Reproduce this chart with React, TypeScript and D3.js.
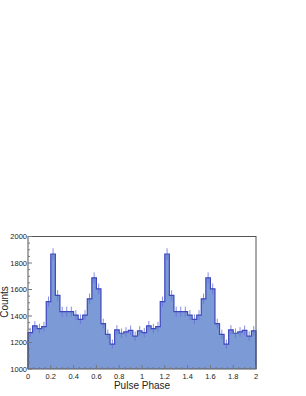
import React, { useEffect, useRef } from "react";
import * as d3 from "d3";

// counts per phase bin (0.04 wide), one pulse cycle; the chart shows it twice
const profile = [
  1275, 1325, 1305, 1320, 1508, 1868, 1555, 1433, 1433, 1433, 1407, 1375, 1407,
  1530, 1688, 1605, 1343, 1262, 1188, 1295, 1270, 1280, 1292, 1248, 1288,
];
const cycles = 2;
const xTicks = [0, 0.2, 0.4, 0.6, 0.8, 1, 1.2, 1.4, 1.6, 1.8, 2];
const yTicks = [1000, 1200, 1400, 1600, 1800, 2000];

export default function App() {
  const svgRef = useRef(null);
  const width = 306;
  const height = 396;

  useEffect(() => {
    const svg = d3.select(svgRef.current);
    svg.selectAll("*").remove();

    const left = 28;
    const right = 256;
    const top = 236.5;
    const bottom = 369;

    const nb = profile.length;
    const bw = 1 / nb;
    const bins = [];
    for (let c = 0; c < cycles; c++) {
      profile.forEach((v, i) => {
        bins.push({ x0: c + i * bw, x1: c + (i + 1) * bw, v });
      });
    }

    const x = d3.scaleLinear().domain([0, 2]).range([left, right]);
    const y = d3.scaleLinear().domain([1000, 2000]).range([bottom, top]);

    // step path
    const pts = [];
    bins.forEach((b) => {
      pts.push([x(b.x0), y(b.v)]);
      pts.push([x(b.x1), y(b.v)]);
    });

    const area = d3
      .area()
      .x((d) => d[0])
      .y0(y(1000))
      .y1((d) => d[1]);
    const line = d3.line();

    svg
      .append("path")
      .datum(pts)
      .attr("d", area)
      .attr("fill", "#7b9ad6");

    // error bars
    svg
      .append("g")
      .selectAll("line")
      .data(bins)
      .enter()
      .append("line")
      .attr("x1", (d) => x((d.x0 + d.x1) / 2))
      .attr("x2", (d) => x((d.x0 + d.x1) / 2))
      .attr("y1", (d) => y(d.v - Math.sqrt(d.v)))
      .attr("y2", (d) => y(d.v + Math.sqrt(d.v)))
      .attr("stroke", "#6a70d8")
      .attr("stroke-opacity", 0.8)
      .attr("stroke-width", 1);

    svg
      .append("path")
      .datum([[x(0), y(1000)], ...pts, [x(2), y(1000)]])
      .attr("d", line)
      .attr("fill", "none")
      .attr("stroke", "#3d48bd")
      .attr("stroke-width", 1.2);

    // frame
    svg
      .append("rect")
      .attr("x", left)
      .attr("y", top)
      .attr("width", right - left)
      .attr("height", bottom - top)
      .attr("fill", "none")
      .attr("stroke", "#555")
      .attr("stroke-width", 1);

    // ticks (inside)
    const tickG = svg.append("g").attr("stroke", "#777").attr("stroke-width", 1);
    d3.range(0, 2.0001, 0.05).forEach((t) => {
      const major = Math.abs(t * 5 - Math.round(t * 5)) < 1e-6;
      tickG
        .append("line")
        .attr("x1", x(t))
        .attr("x2", x(t))
        .attr("y1", bottom)
        .attr("y2", bottom - (major ? 4 : 2));
    });
    d3.range(1000, 2001, 50).forEach((t) => {
      const major = t % 200 === 0;
      tickG
        .append("line")
        .attr("x1", left)
        .attr("x2", left + (major ? 4 : 2))
        .attr("y1", y(t))
        .attr("y2", y(t));
    });

    const font = "'Liberation Sans', Arial, sans-serif";

    svg
      .append("g")
      .selectAll("text")
      .data(xTicks)
      .enter()
      .append("text")
      .attr("x", (d) => x(d))
      .attr("y", bottom + 10)
      .attr("text-anchor", "middle")
      .attr("font-family", font)
      .attr("font-size", 7.5)
      .attr("fill", "#222")
      .text((d) => d3.format("")(d));

    svg
      .append("g")
      .selectAll("text")
      .data(yTicks)
      .enter()
      .append("text")
      .attr("x", left - 1)
      .attr("y", (d) => y(d) + 2.5)
      .attr("text-anchor", "end")
      .attr("font-family", font)
      .attr("font-size", 7.5)
      .attr("fill", "#222")
      .text((d) => d);

    svg
      .append("text")
      .attr("x", (left + right) / 2)
      .attr("y", 389)
      .attr("text-anchor", "middle")
      .attr("font-family", font)
      .attr("font-size", 10)
      .attr("fill", "#222")
      .text("Pulse Phase");

    svg
      .append("text")
      .attr("transform", `translate(4.5,302) rotate(-90)`)
      .attr("text-anchor", "middle")
      .attr("dy", "0.35em")
      .attr("font-family", font)
      .attr("font-size", 10)
      .attr("fill", "#222")
      .text("Counts");
  }, []);

  return (
    <svg
      ref={svgRef}
      width={width}
      height={height}
      style={{ position: "absolute", left: 0, top: 0, background: "#fff" }}
    ></svg>
  );
}
